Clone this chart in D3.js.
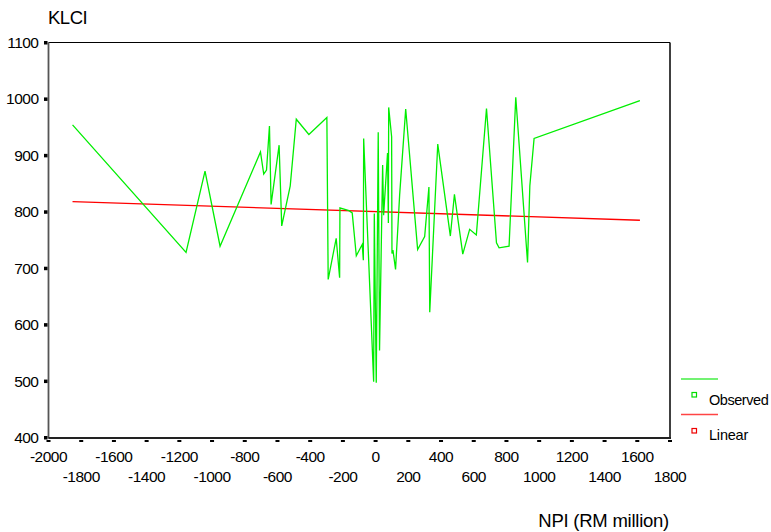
<!DOCTYPE html>
<html>
<head>
<meta charset="utf-8">
<script src="https://cdn.jsdelivr.net/npm/d3@7"></script>
<style>
  body { margin: 0; background: #fff; }
  text { font-family: "Liberation Sans", Arial, sans-serif; fill: #000; }
</style>
</head>
<body>
<svg id="chart" width="771" height="532"></svg>
<script>
// Observed series (NPI in RM million, KLCI)
const observedNPI = [-1853, -1159, -1043, -951, -704, -684, -667, -649, -639, -590, -574, -522, -485, -408, -298, -290,
  -241, -220, -218, -163, -143, -118, -82, -75, -73, -12, -8, 4, 16, 24, 43, 49, 73, 78, 80, 98, 100, 106, 122, 147,
  184, 257, 300, 326, 331, 380, 457, 482, 533, 575, 616, 678, 739, 755, 816, 857, 929, 943, 969, 1616];
const observedKLCI = [954, 728, 872, 739, 906, 867, 874, 952, 813, 918, 775, 846, 964, 937, 967, 680,
  753, 683, 807, 802, 798, 722, 742, 714, 930, 499, 797, 497, 941, 554, 883, 794, 904, 780, 985, 933, 726, 732, 698, 830,
  982, 733, 756, 844, 622, 920, 757, 831, 725, 769, 759, 983, 745, 736, 739, 1003, 710, 846, 930, 997];
// Linear fit line
const linearNPI = [-1853, 1616];
const linearKLCI = [818, 785];

const xTicks = [-2000, -1800, -1600, -1400, -1200, -1000, -800, -600, -400, -200, 0, 200, 400, 600, 800, 1000, 1200, 1400, 1600, 1800];
const yTicks = [400, 500, 600, 700, 800, 900, 1000, 1100];

(function () {
const svg = d3.select("#chart");
const pL = 48.5, pR = 670, pT = 42.5, pB = 437.5;
const x = d3.scaleLinear().domain([-2000, 1800]).range([pL, pR]);
const y = d3.scaleLinear().domain([400, 1100]).range([pB, pT]);

// frame
svg.append("line").attr("x1", pL).attr("x2", pR).attr("y1", pT).attr("y2", pT).attr("stroke", "#000").attr("stroke-width", 1.2);
svg.append("line").attr("x1", pR).attr("x2", pR).attr("y1", pT).attr("y2", pB).attr("stroke", "#000").attr("stroke-width", 1.5);
svg.append("line").attr("x1", pL).attr("x2", pL).attr("y1", pT).attr("y2", pB + 1).attr("stroke", "#555").attr("stroke-width", 1.8);
svg.append("line").attr("x1", pL).attr("x2", pR + 1).attr("y1", pB + 0.5).attr("y2", pB + 0.5).attr("stroke", "#222").attr("stroke-width", 2);

// y ticks
const yg = svg.append("g");
yTicks.forEach(t => {
  yg.append("rect").attr("x", pL - 4.5).attr("y", y(t) - 1.5).attr("width", 3.5).attr("height", 3.5).attr("fill", "#000");
  yg.append("text").attr("x", 38.5).attr("y", y(t) + 5.5).attr("text-anchor", "end")
    .attr("font-size", 15.5).attr("letter-spacing", -0.5).text(t);
});

// x ticks
const xg = svg.append("g");
xTicks.forEach((t, i) => {
  xg.append("rect").attr("x", x(t) - 2).attr("y", pB + 2.5).attr("width", 4).attr("height", 2).attr("fill", "#000");
  const row = (i % 2 === 0) ? 0 : 1;
  xg.append("text").attr("x", x(t)).attr("y", row === 0 ? 461.5 : 481.5)
    .attr("text-anchor", "middle").attr("font-size", 15.5).attr("letter-spacing", -0.5).text(t);
});

// axis titles
svg.append("text").attr("x", 48).attr("y", 23.5).attr("font-size", 18.5).attr("letter-spacing", -0.5).text("KLCI");
svg.append("text").attr("x", 669).attr("y", 526.5).attr("text-anchor", "end").attr("font-size", 18.5)
  .attr("letter-spacing", -0.25).text("NPI (RM million)");

// lines
const obs = observedNPI.map((v, i) => [v, observedKLCI[i]]);
const lin = linearNPI.map((v, i) => [v, linearKLCI[i]]);
const line = d3.line().x(d => x(d[0])).y(d => y(d[1]));
svg.append("path").datum(lin).attr("d", line).attr("fill", "none").attr("stroke", "#ff0000").attr("stroke-width", 1.4);
svg.append("path").datum(obs).attr("d", line).attr("fill", "none").attr("stroke", "#00ee00").attr("stroke-width", 1.3).attr("stroke-linejoin", "miter");

// legend
const lg = svg.append("g");
lg.append("line").attr("x1", 681).attr("x2", 718).attr("y1", 379).attr("y2", 379).attr("stroke", "#44ee44").attr("stroke-width", 1.3);
lg.append("rect").attr("x", 692).attr("y", 392.5).attr("width", 4.5).attr("height", 4.5).attr("fill", "none").attr("stroke", "#00dd00").attr("stroke-width", 1.2);
lg.append("text").attr("x", 709).attr("y", 404.5).attr("font-size", 14.5).attr("letter-spacing", -0.45).text("Observed");
lg.append("line").attr("x1", 681).attr("x2", 718).attr("y1", 414.5).attr("y2", 414.5).attr("stroke", "#ff4444").attr("stroke-width", 1.3);
lg.append("rect").attr("x", 692).attr("y", 428.5).attr("width", 4.5).attr("height", 4.5).attr("fill", "none").attr("stroke", "#ee0000").attr("stroke-width", 1.2);
lg.append("text").attr("x", 709).attr("y", 440).attr("font-size", 14.5).attr("letter-spacing", -0.2).text("Linear");
})();
</script>
</body>
</html>
